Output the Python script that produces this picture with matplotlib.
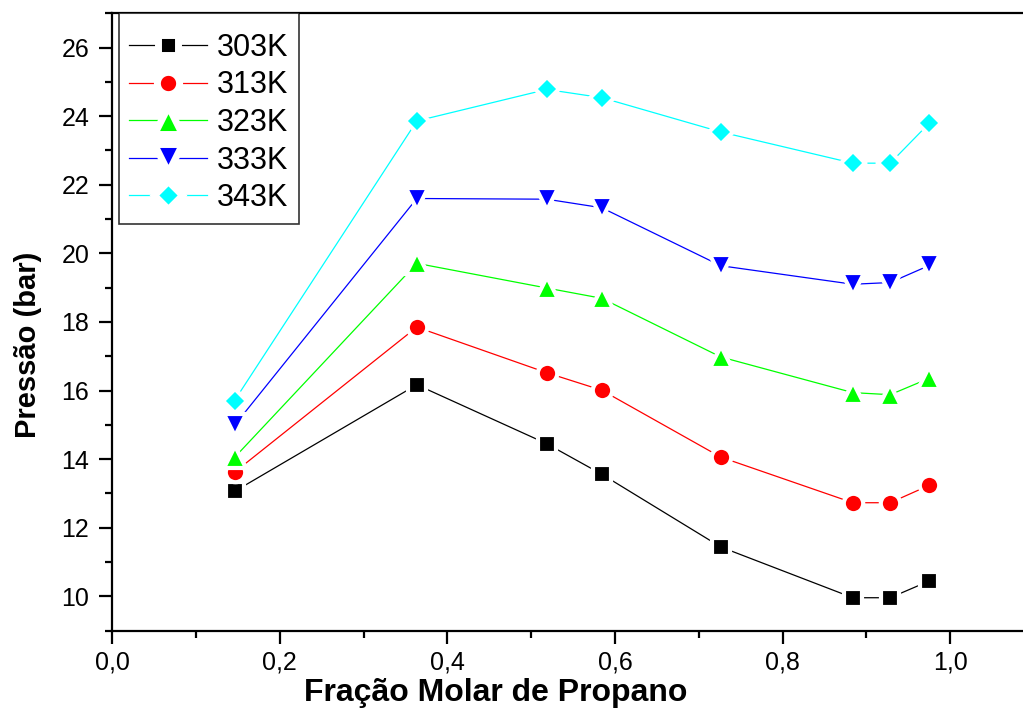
import matplotlib
matplotlib.use('Agg')
import matplotlib.pyplot as plt

plt.rcParams['font.family'] = ['Liberation Sans', 'DejaVu Sans']

# fração molar de propano
x_frac = [0.146, 0.3635, 0.5186, 0.5843, 0.7263, 0.8839, 0.9285, 0.9753]

# pressão (bar) por temperatura
p_303 = [13.06, 16.17, 14.45, 13.56, 11.44, 9.96, 9.96, 10.45]
p_313 = [13.62, 17.85, 16.52, 16.01, 14.06, 12.73, 12.73, 13.24]
p_323 = [14.05, 19.71, 18.99, 18.69, 16.98, 15.94, 15.88, 16.36]
p_333 = [14.99, 21.60, 21.58, 21.33, 19.64, 19.10, 19.15, 19.65]
p_343 = [15.71, 23.86, 24.78, 24.54, 23.54, 22.63, 22.63, 23.80]

# name, values, colour, marker, size in plot, size in legend
series = [
    ('303K', p_303, 'black', 's', 13.0, 15.0),
    ('313K', p_313, 'red', 'o', 14.0, 16.0),
    ('323K', p_323, '#00ff00', '^', 15.5, 20.0),
    ('333K', p_333, 'blue', 'v', 15.5, 20.0),
    ('343K', p_343, 'cyan', 'D', 12.5, 14.5),
]

xticks = [0.0, 0.2, 0.4, 0.6, 0.8, 1.0]
xtick_labels = ['0,0', '0,2', '0,4', '0,6', '0,8', '1,0']
yticks = [10, 12, 14, 16, 18, 20, 22, 24, 26]

fig = plt.figure(figsize=(10.23, 7.11), dpi=100)
ax = fig.add_axes([0.1097, 0.113, 0.8903, 0.8683])

for name, vals, col, mk, ms, lms in series:
    ax.plot(x_frac, vals, color=col, lw=0.9, marker=mk, ms=ms,
            mfc=col, mec='white', mew=3.0, label=name)

ax.set_xlim(0, 1.087)
ax.set_ylim(9, 27)
ax.set_xticks(xticks)
ax.set_xticklabels(xtick_labels)
ax.set_xticks([0.1, 0.3, 0.5, 0.7, 0.9], minor=True)
ax.set_yticks(yticks)
ax.set_yticks(range(9, 28, 2), minor=True)

for s in ['left', 'bottom', 'top']:
    ax.spines[s].set_linewidth(1.6)
ax.spines['right'].set_visible(False)

ax.tick_params(which='major', direction='out', length=9.5, width=1.6,
               labelsize=18)
ax.tick_params(axis='x', which='major', pad=5)
ax.tick_params(axis='y', which='major', pad=7)
ax.tick_params(which='minor', direction='out', length=5, width=1.6)
ax.tick_params(top=False, right=False, which='both')

ax.set_xlabel('Fração Molar de Propano', fontsize=23, fontweight='bold')
ax.xaxis.set_label_coords(0.4215, -0.077)
ax.set_ylabel('Pressão (bar)', fontsize=21, fontweight='bold')
ax.yaxis.set_label_coords(-0.077, 0.463)

leg = ax.legend(loc='upper left', bbox_to_anchor=(0.0069, 1.0), borderaxespad=0,
                fontsize=22, frameon=True, fancybox=False, edgecolor='black',
                handlelength=2.55, handletextpad=0.33, labelspacing=0.25,
                borderpad=0.35, numpoints=1, title=' ', title_fontsize=1)
leg.get_frame().set_linewidth(1.2)
# gap between line and marker in the legend, as in the original
for h, (name, vals, col, mk, ms, lms) in zip(leg.legend_handles, series):
    h.set_markeredgewidth(5)
    h.set_markersize(lms)

fig.savefig('out.png', dpi=100)
